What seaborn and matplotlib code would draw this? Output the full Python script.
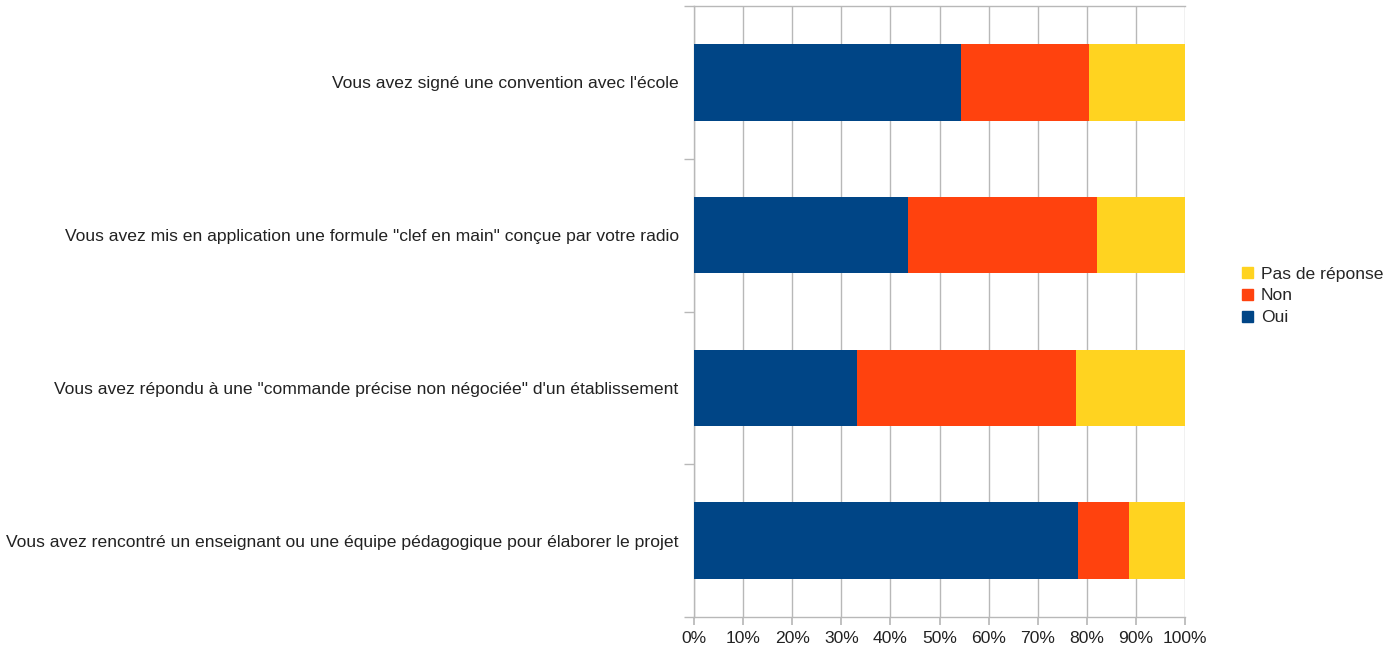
import matplotlib
matplotlib.use("Agg")
import matplotlib.pyplot as plt
import matplotlib.patches as mpatches
from matplotlib.ticker import FixedLocator, PercentFormatter
import numpy as np
import pandas as pd
import seaborn as sns

sns.set_theme(style="white")
plt.rcParams['font.family'] = ['Liberation Sans', 'DejaVu Sans']

# données (% des réponses)
questions = [
    "Vous avez signé une convention avec l'école",
    "Vous avez mis en application une formule \"clef en main\" conçue par votre radio",
    "Vous avez répondu à une \"commande précise non négociée\" d'un établissement",
    "Vous avez rencontré un enseignant ou une équipe pédagogique pour élaborer le projet",
]
oui = [54.4, 43.6, 33.2, 78.2]
non = [26.1, 38.4, 44.7, 10.3]
pas_de_reponse = [19.5, 18.0, 22.1, 11.5]

series = ["Oui", "Non", "Pas de réponse"]
colors = {"Oui": "#004586", "Non": "#FF420E", "Pas de réponse": "#FFD320"}

df = pd.DataFrame({"Question": questions, "Oui": oui, "Non": non,
                   "Pas de réponse": pas_de_reponse})
# cumul pour empiler les barres
df["cum_oui"] = df["Oui"]
df["cum_non"] = df["Oui"] + df["Non"]
df["cum_pas"] = df["cum_non"] + df["Pas de réponse"]

fig = plt.figure(figsize=(13.99, 6.52), dpi=100)
ax = fig.add_axes([694 / 1399, 1 - 617 / 652, (1185 - 694) / 1399, (617 - 6) / 652])

# on dessine du plus long au plus court
for col, name in [("cum_pas", "Pas de réponse"), ("cum_non", "Non"), ("cum_oui", "Oui")]:
    sns.barplot(data=df, y="Question", x=col, color=colors[name], orient="h",
                width=0.5, ax=ax, saturation=1, linewidth=0, zorder=3)

ax.set_xlim(0, 100)
ax.set_ylim(3.5, -0.5)
ax.xaxis.set_major_locator(FixedLocator(np.arange(0, 101, 10)))
ax.xaxis.set_major_formatter(PercentFormatter(decimals=0))
ax.grid(axis="x", color="#b8b8b8", linewidth=1, zorder=0)
ax.set_axisbelow(True)
ax.set_xlabel("")
ax.set_ylabel("")

# graduations aux limites des catégories
ax.yaxis.set_minor_locator(FixedLocator(np.arange(-0.5, 4, 1)))
ax.tick_params(axis="y", which="major", length=0, pad=11, labelsize=12.6, labelcolor="#222222")
ax.tick_params(axis="y", which="minor", left=True, length=7, color="#b8b8b8", width=1)
ax.tick_params(axis="x", which="major", bottom=True, length=6, color="#b8b8b8",
               labelsize=12.6, labelcolor="#222222", pad=4)

for side in ["left", "bottom", "top"]:
    ax.spines[side].set_color("#b8b8b8")
    ax.spines[side].set_linewidth(1)
ax.spines["right"].set_visible(False)

handles = [mpatches.Patch(color=colors[s], label=s) for s in reversed(series)]
fig.legend(handles=handles, loc="center left", bbox_to_anchor=(1226 / 1399, 1 - 296 / 652),
           frameon=False, fontsize=12.6, handlelength=0.65, handleheight=0.65,
           handletextpad=0.45, labelspacing=0.4)

fig.savefig("out.png", dpi=100)
